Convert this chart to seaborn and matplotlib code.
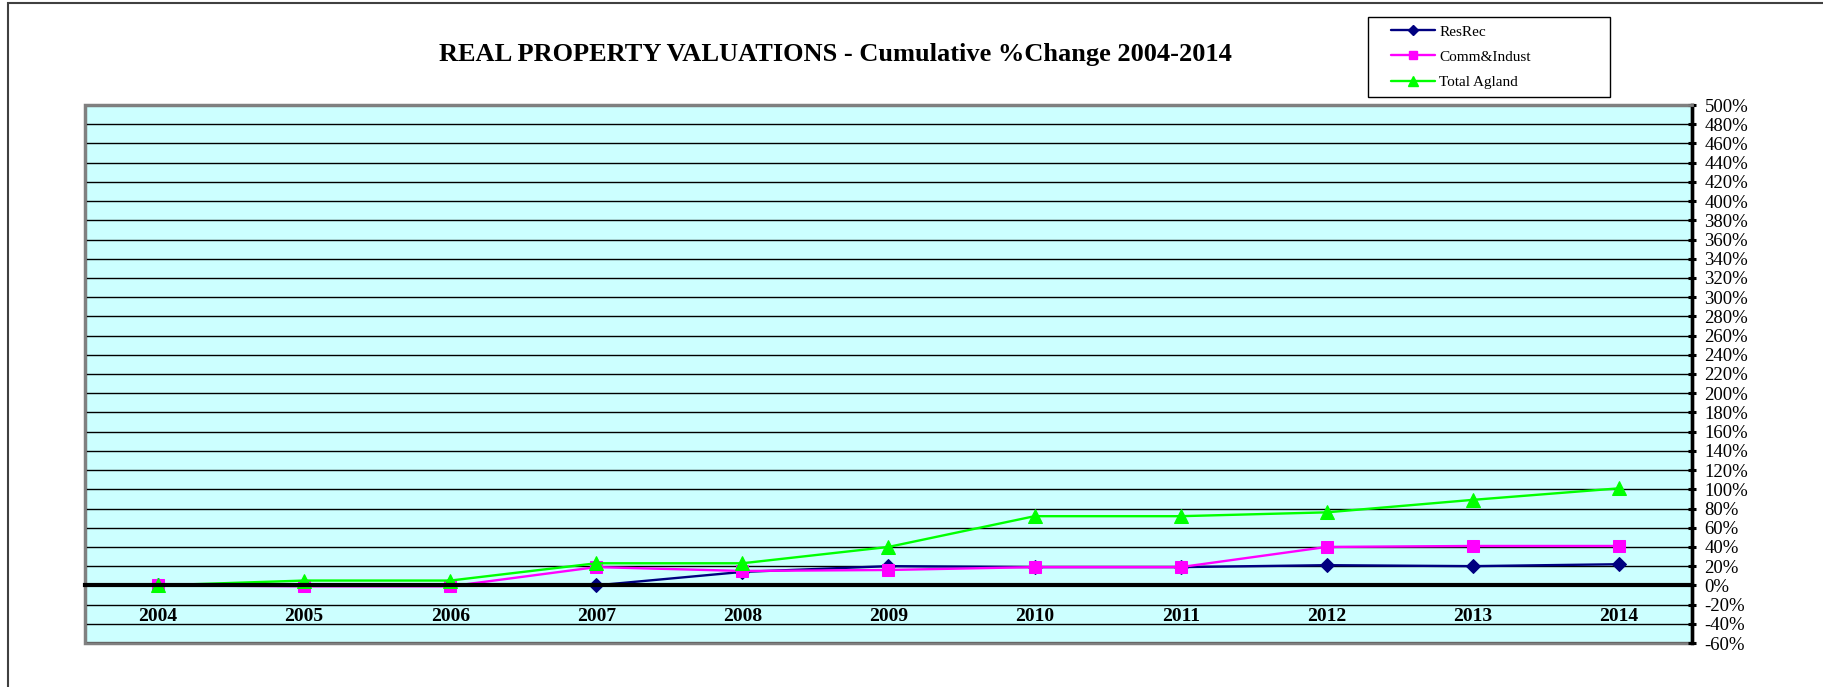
import numpy as np
import pandas as pd
import seaborn as sns
import matplotlib.pyplot as plt
from matplotlib.lines import Line2D
from matplotlib.patches import Rectangle
from matplotlib.ticker import FuncFormatter, FixedLocator

# data (cumulative % change)
years = ['2004', '2005', '2006', '2007', '2008', '2009', '2010', '2011', '2012', '2013', '2014']
res_rec = [0, 0, 1, 0, 14, 20, 19, 19, 21, 20, 22]
comm_indust = [0, -1, -1, 19, 15, 16, 19, 19, 40, 41, 41]
total_agland = [0, 5, 5, 23, 23, 40, 72, 72, 76, 89, 101]
series_names = ['ResRec', 'Comm&Indust', 'Total Agland']
y_ticks = list(range(-60, 501, 20))

sns.set_style('white')
plt.rcParams['font.family'] = ['Liberation Serif', 'DejaVu Serif']
for k in ['text.color', 'xtick.color', 'ytick.color', 'axes.labelcolor']:
    plt.rcParams[k] = 'black'

W, H = 1824, 687
fig = plt.figure(figsize=(W / 100, H / 100), dpi=100)

# outer chart border
fig.patches.append(Rectangle((8 / W, -0.05), 1.1, 1.05 - 3 / H, transform=fig.transFigure,
                             fill=False, edgecolor='#404040', lw=1.5, zorder=0))

ax = fig.add_axes([85 / W, 1 - 643 / H, (1692 - 85) / W, (643 - 105) / H])
ax.set_facecolor('#CCFFFF')

x = np.arange(len(years))
df = pd.DataFrame({'x': x, 'ResRec': res_rec, 'Comm&Indust': comm_indust, 'Total Agland': total_agland})

styles = {
    'ResRec': dict(color='#000080', marker='D', markersize=7),
    'Comm&Indust': dict(color='#FF00FF', marker='s', markersize=9),
    'Total Agland': dict(color='#00FF00', marker='^', markersize=10),
}
for i, name in enumerate(series_names):
    st = styles[name]
    sns.lineplot(data=df, x='x', y=name, ax=ax, color=st['color'], marker=st['marker'],
                 markersize=st['markersize'], markeredgecolor=st['color'], lw=1.7,
                 zorder=3 + i, legend=False)

ax.set_xlim(-0.5, len(years) - 0.5)
ax.set_ylim(-60, 500)

# gridlines
for yv in y_ticks:
    ax.axhline(yv, color='black', lw=1, zorder=1)

# value axis on the right
ax.yaxis.tick_right()
ax.yaxis.set_major_locator(FixedLocator(y_ticks))
ax.yaxis.set_major_formatter(FuncFormatter(lambda v, p: f'{v:.0f}%'))
ax.tick_params(axis='y', direction='inout', length=6, width=2.2, color='black',
               labelsize=13.5, pad=6, right=True, left=False)

# category axis crosses at 0
ax.spines['bottom'].set_position(('data', 0))
ax.spines['bottom'].set_linewidth(3)
ax.spines['bottom'].set_color('black')
ax.spines['bottom'].set_zorder(6)
ax.set_xticks(x)
ax.set_xticklabels(years, fontweight='bold', fontsize=14)
ax.set_xticks(np.arange(-0.5, len(years), 1), minor=True)
ax.tick_params(axis='x', which='major', length=0, pad=16.5)
ax.tick_params(axis='x', which='minor', direction='out', length=4, width=2.2, color='black')

ax.spines['right'].set_color('black')
ax.spines['right'].set_linewidth(2.5)
for s in ['left', 'top']:
    ax.spines[s].set_color('#808080')
    ax.spines[s].set_linewidth(2)
# plot-area bottom border (the bottom spine is moved to 0)
ax.add_patch(Rectangle((0, 0), 1, 1, transform=ax.transAxes, fill=False,
                       edgecolor='#808080', lw=2.5, zorder=0.5, clip_on=False))
ax.set_xlabel('')
ax.set_ylabel('')

# title
fig.text(835 / W, 1 - 55 / H, 'REAL PROPERTY VALUATIONS - Cumulative %Change 2004-2014',
         ha='center', va='center', fontsize=19, fontweight='bold')

# legend with its own box
fig.patches.append(Rectangle((1368 / W, 1 - 97 / H), (1610 - 1368) / W, 80 / H,
                             transform=fig.transFigure, fill=False, edgecolor='black', lw=1))
handles = [Line2D([], [], color=styles[n]['color'], marker=styles[n]['marker'],
                  markersize=styles[n]['markersize'] * 0.7, lw=1.7) for n in series_names]
fig.legend(handles, series_names, loc='upper left', bbox_to_anchor=(1391 / W, 1 - 25 / H),
           frameon=False, fontsize=11, handlelength=2.9, handletextpad=0.25,
           labelspacing=0.75, borderpad=0, borderaxespad=0)

fig.savefig('out.png', dpi=100)
